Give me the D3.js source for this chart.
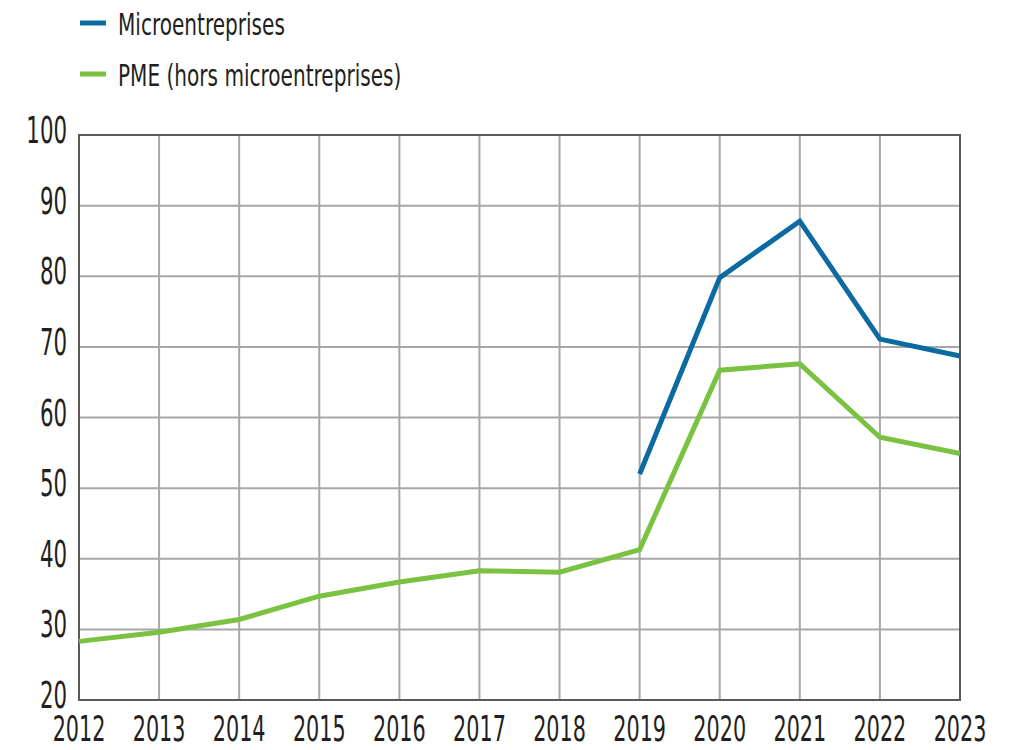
<!DOCTYPE html>
<html><head><meta charset="utf-8">
<script src="https://cdn.jsdelivr.net/npm/d3@7"></script>
<style>
html,body{margin:0;padding:0;background:#fff;}
text{font-family:"DejaVu Sans Condensed","DejaVu Sans",sans-serif;fill:#231f20;}
</style></head>
<body>
<svg id="chart" width="1018" height="750"></svg>
<script>
const years = [2012,2013,2014,2015,2016,2017,2018,2019,2020,2021,2022,2023];
const microValues = [null,null,null,null,null,null,null,52.0,79.8,87.8,71.1,68.7];
const pmeValues = [28.3,29.6,31.4,34.7,36.7,38.3,38.1,41.3,66.7,67.6,57.2,54.9];
const yTicks = [20,30,40,50,60,70,80,90,100];
const seriesNames = ["Microentreprises","PME (hors microentreprises)"];
const seriesColors = ["#0b6aa2","#7cc242"];

const svg = d3.select("#chart");
const m = {left:79, right:960, top:135, bottom:700};
const x = d3.scaleLinear().domain([2012,2023]).range([m.left,m.right]);
const y = d3.scaleLinear().domain([20,100]).range([m.bottom,m.top]);
const SX = 0.64;

// grid
const g = svg.append("g");
g.selectAll(".vg").data(years.slice(1,-1)).join("line")
  .attr("x1",d=>x(d)).attr("x2",d=>x(d)).attr("y1",m.top).attr("y2",m.bottom)
  .attr("stroke","#a7a7a7").attr("stroke-width",2);
g.selectAll(".hg").data(yTicks.slice(1,-1)).join("line")
  .attr("x1",m.left).attr("x2",m.right).attr("y1",d=>y(d)).attr("y2",d=>y(d))
  .attr("stroke","#a7a7a7").attr("stroke-width",2);
// frame
g.append("rect").attr("x",m.left).attr("y",m.top).attr("width",m.right-m.left).attr("height",m.bottom-m.top)
  .attr("fill","none").attr("stroke","#5a5a5a").attr("stroke-width",2);

// y labels
svg.append("g").selectAll("text").data(yTicks).join("text")
  .attr("transform",d=>`translate(67,${y(d)+8}) scale(${SX},1)`)
  .attr("text-anchor","end").attr("font-size",37).text(d=>d);
// x labels
svg.append("g").selectAll("text").data(years).join("text")
  .attr("transform",d=>`translate(${x(d)},${741}) scale(${SX},1)`)
  .attr("text-anchor","middle").attr("font-size",36).text(d=>d);

// lines
const line = d3.line().defined(d=>d[1]!=null).x(d=>x(d[0])).y(d=>y(d[1]));
[microValues,pmeValues].forEach((vals,i)=>{
  svg.append("path").datum(years.map((yr,j)=>[yr,vals[j]]))
    .attr("d",line).attr("fill","none").attr("stroke",seriesColors[i])
    .attr("stroke-width",5).attr("stroke-linejoin","miter");
});

// legend
const lg = svg.append("g");
seriesNames.forEach((name,i)=>{
  const yy = 23 + i*51;
  lg.append("line").attr("x1",80).attr("x2",106).attr("y1",yy).attr("y2",yy)
    .attr("stroke",seriesColors[i]).attr("stroke-width",5);
  lg.append("text").attr("transform",`translate(118,${yy+12}) scale(0.72,1)`)
    .attr("font-size",31).text(name);
});
</script>
</body></html>
